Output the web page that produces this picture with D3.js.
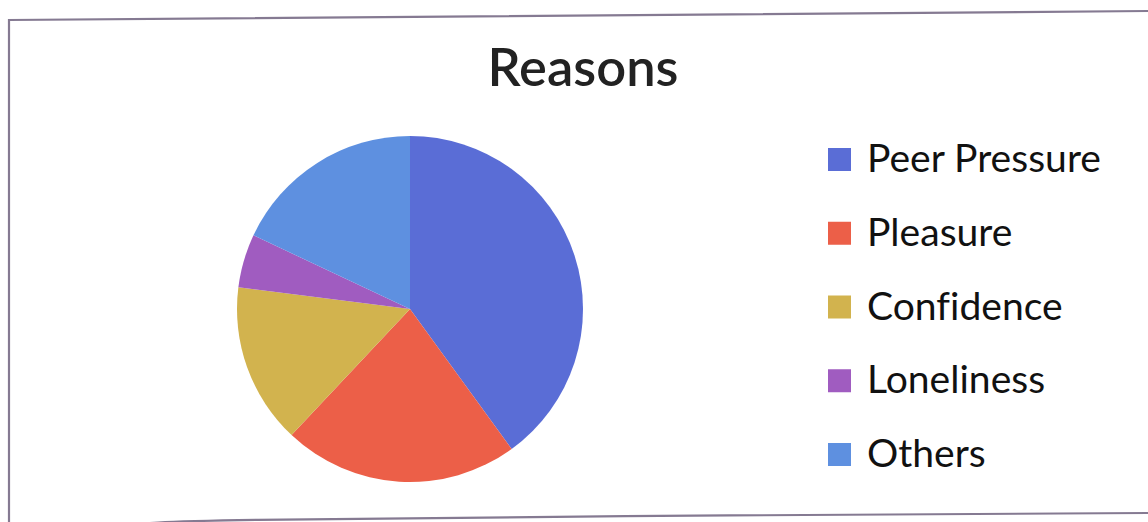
<!DOCTYPE html>
<html>
<head>
<meta charset="utf-8">
<script src="https://cdn.jsdelivr.net/npm/d3@7"></script>
<style>
  html, body { margin: 0; padding: 0; background: #fff; }
  svg { display: block; }
  text { font-family: Lato, "Open Sans", sans-serif; fill: #111; font-variant-ligatures: none; font-feature-settings: "liga" 0; }
</style>
</head>
<body>
<script>
const title = "Reasons";
const categories = ["Peer Pressure", "Pleasure", "Confidence", "Loneliness", "Others"];
const values = [40, 22, 15, 5, 18];
const colors = ["#5a6dd6", "#ec5f48", "#d2b34e", "#a05cc0", "#5e90e0"];

const W = 1148, H = 522;
const svg = d3.select("body").append("svg").attr("width", W).attr("height", H);

// frame (scanned page border)
svg.append("path")
  .attr("d", d3.line()([[9, 523], [9, 20], [1150, 11]]))
  .attr("fill", "none").attr("stroke", "#857a92").attr("stroke-width", 2.2);
svg.append("path")
  .attr("d", d3.line().curve(d3.curveBasis)([[150, 523], [200, 520], [600, 516], [1150, 513]]))
  .attr("fill", "none").attr("stroke", "#857a92").attr("stroke-width", 2.2);

// title
const t = svg.append("text").attr("x", 583).attr("y", 86)
  .attr("text-anchor", "middle").attr("font-size", 49).attr("font-weight", 600)
  .style("fill", "#222").text(title);
{
  const w = t.node().getComputedTextLength();
  t.attr("font-size", 49 * 191 / w);
}

// pie
const cx = 410, cy = 309, r = 173;
const pie = d3.pie().sort(null).value(d => d);
const arc = d3.arc().innerRadius(0).outerRadius(r);
const color = d3.scaleOrdinal().domain(categories).range(colors);
svg.append("g").attr("transform", `translate(${cx},${cy})`)
  .selectAll("path").data(pie(values)).join("path")
  .attr("d", arc)
  .attr("fill", (d, i) => color(categories[i]));

// legend
const y = d3.scalePoint().domain(categories).range([160, 455]);
const lg = svg.append("g");
const items = lg.selectAll("g").data(categories).join("g")
  .attr("transform", d => `translate(0,${y(d)})`);
items.append("rect").attr("x", 828).attr("y", -12).attr("width", 23).attr("height", 23)
  .attr("fill", d => color(d));
const labels = items.append("text").attr("x", 867).attr("y", 12)
  .attr("font-size", 34).text(d => d);
{
  const w = labels.filter((d, i) => i === 0).node().getComputedTextLength();
  labels.attr("font-size", 34 * 234 / w);
}
</script>
</body>
</html>
